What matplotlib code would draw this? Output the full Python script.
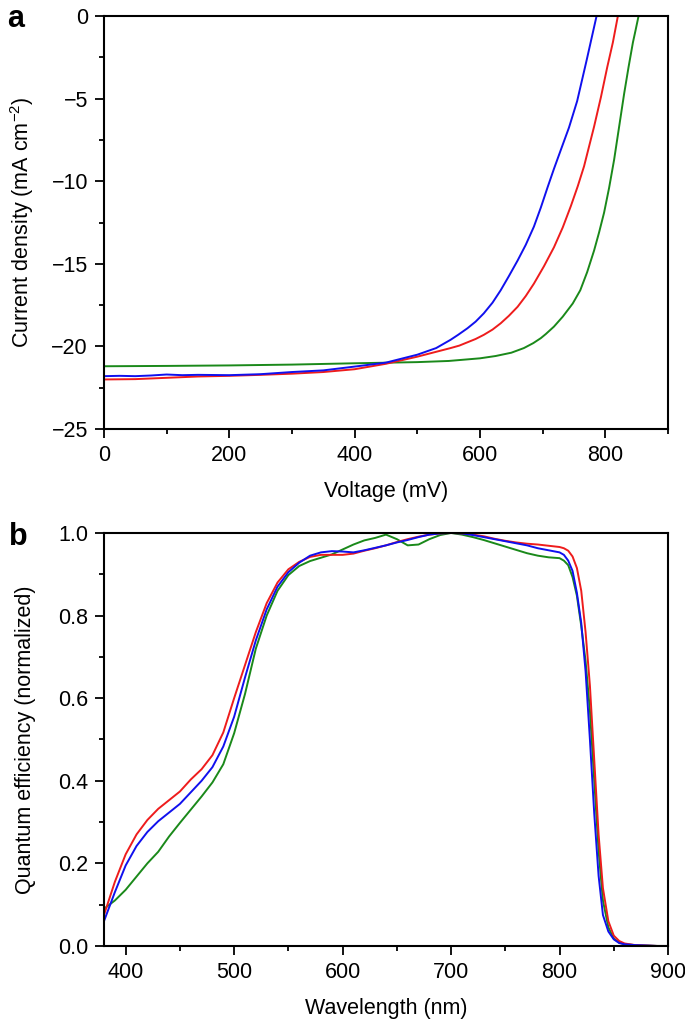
import matplotlib
matplotlib.use("Agg")
import matplotlib.pyplot as plt
from matplotlib.ticker import MultipleLocator, FormatStrFormatter

plt.rcParams['font.family'] = ['Liberation Sans', 'DejaVu Sans']
plt.rcParams['mathtext.default'] = 'regular'

#### panel a: J-V curves
v_blue = [0, 25, 50, 75, 100, 125, 150, 200, 250, 300, 325, 350, 400, 450, 500,
          530, 553, 565, 580, 593, 606, 620, 633, 646, 660, 673, 686, 697, 708,
          718, 729, 742, 755, 770, 786]
j_blue = [-21.80, -21.78, -21.80, -21.76, -21.70, -21.74, -21.72, -21.74, -21.68,
          -21.55, -21.50, -21.45, -21.22, -20.98, -20.50, -20.10, -19.60, -19.30,
          -18.90, -18.50, -18.00, -17.35, -16.60, -15.75, -14.80, -13.85, -12.75,
          -11.60, -10.35, -9.25, -8.10, -6.75, -5.15, -2.70, 0.0]

v_red = [0, 50, 100, 150, 200, 250, 300, 350, 400, 450, 500, 553, 567, 580, 593,
         606, 620, 633, 646, 660, 673, 686, 702, 718, 732, 745, 756, 766, 774, 782,
         793, 803, 812, 820]
j_red = [-22.00, -21.98, -21.90, -21.82, -21.78, -21.72, -21.65, -21.55, -21.38,
         -21.05, -20.62, -20.10, -19.95, -19.75, -19.55, -19.30, -18.98, -18.60,
         -18.15, -17.60, -16.95, -16.20, -15.15, -14.00, -12.80, -11.50, -10.30,
         -9.10, -7.90, -6.70, -4.90, -3.10, -1.60, 0.0]

v_green = [0, 100, 200, 300, 400, 500, 550, 600, 625, 650, 670, 685, 697, 705,
           718, 732, 748, 760, 771, 782, 790, 798, 806, 814, 822, 830, 837, 844,
           848, 853]
j_green = [-21.20, -21.18, -21.15, -21.10, -21.02, -20.95, -20.88, -20.72, -20.58,
           -20.38, -20.10, -19.80, -19.50, -19.25, -18.80, -18.20, -17.40, -16.60,
           -15.50, -14.20, -13.10, -11.90, -10.40, -8.70, -6.70, -4.70, -3.10,
           -1.60, -0.90, 0.0]

#### panel b: normalized quantum efficiency
wl = [380, 385, 390, 400, 410, 420, 430, 440, 450, 460, 470, 480, 490, 500, 510,
      520, 530, 540, 550, 560, 570, 580, 590, 600, 610, 620, 630, 640, 650, 660,
      670, 680, 690, 700, 710, 720, 730, 740, 750, 760, 770, 780, 790, 800, 804,
      808, 812, 816, 820, 824, 828, 832, 836, 840, 845, 850, 855, 860, 870, 880,
      890, 900]
qe_red = [0.075, 0.115, 0.155, 0.222, 0.270, 0.305, 0.332, 0.353, 0.374, 0.403,
          0.428, 0.462, 0.517, 0.600, 0.680, 0.760, 0.830, 0.880, 0.912, 0.930,
          0.942, 0.947, 0.947, 0.947, 0.950, 0.957, 0.963, 0.970, 0.978, 0.985,
          0.991, 0.996, 0.999, 1.000, 0.999, 0.996, 0.992, 0.986, 0.981, 0.977,
          0.974, 0.972, 0.969, 0.966, 0.963, 0.957, 0.943, 0.915, 0.860, 0.760,
          0.630, 0.450, 0.270, 0.140, 0.060, 0.025, 0.012, 0.006, 0.002, 0.001,
          0.0, 0.0]
qe_blue = [0.060, 0.095, 0.130, 0.195, 0.242, 0.276, 0.302, 0.323, 0.344, 0.372,
           0.400, 0.433, 0.483, 0.555, 0.650, 0.740, 0.815, 0.870, 0.905, 0.928,
           0.945, 0.953, 0.956, 0.955, 0.953, 0.958, 0.964, 0.970, 0.977, 0.983,
           0.990, 0.996, 0.999, 1.000, 0.999, 0.995, 0.990, 0.985, 0.980, 0.975,
           0.970, 0.963, 0.958, 0.953, 0.947, 0.933, 0.908, 0.855, 0.782, 0.665,
           0.500, 0.320, 0.170, 0.075, 0.035, 0.016, 0.007, 0.004, 0.002, 0.001,
           0.0, 0.0]
qe_green = [0.090, 0.100, 0.110, 0.136, 0.168, 0.200, 0.228, 0.265, 0.298, 0.330,
            0.362, 0.396, 0.440, 0.515, 0.610, 0.720, 0.800, 0.860, 0.898, 0.920,
            0.932, 0.940, 0.948, 0.960, 0.972, 0.982, 0.988, 0.996, 0.985, 0.970,
            0.972, 0.985, 0.995, 1.000, 0.996, 0.990, 0.983, 0.975, 0.967, 0.959,
            0.951, 0.945, 0.941, 0.939, 0.933, 0.922, 0.893, 0.848, 0.775, 0.690,
            0.570, 0.400, 0.230, 0.110, 0.045, 0.018, 0.008, 0.004, 0.002, 0.001,
            0.0, 0.0]

RED = '#ee1c1c'
BLUE = '#1010ee'
GREEN = '#1a891a'
FS = 15.5

fig = plt.figure(figsize=(6.85, 10.21), dpi=100)
ax_a = fig.add_axes([0.1518, 0.5798, 0.8234, 0.4045])
ax_b = fig.add_axes([0.1518, 0.0735, 0.8234, 0.4045])


def style(ax):
    for s in ax.spines.values():
        s.set_linewidth(1.5)
    ax.tick_params(which='both', direction='out', top=False, right=False,
                   labelsize=FS, width=1.3, pad=5)
    ax.tick_params(which='major', length=6.5)
    ax.tick_params(which='minor', length=3.8)


ax_a.plot(v_green, j_green, color=GREEN, lw=1.4)
ax_a.plot(v_red, j_red, color=RED, lw=1.4)
ax_a.plot(v_blue, j_blue, color=BLUE, lw=1.4)
ax_a.set_xlim(0, 900)
ax_a.set_ylim(-25, 0)
ax_a.xaxis.set_major_locator(MultipleLocator(200))
ax_a.xaxis.set_minor_locator(MultipleLocator(100))
ax_a.yaxis.set_major_locator(MultipleLocator(5))
ax_a.yaxis.set_minor_locator(MultipleLocator(2.5))
style(ax_a)
ax_a.set_xlabel('Voltage (mV)', fontsize=FS)
ax_a.set_ylabel('Current density (mA cm$^{-2}$)', fontsize=FS)
ax_a.xaxis.set_label_coords(0.5, -0.125)
ax_a.yaxis.set_label_coords(-0.12, 0.5)

ax_b.plot(wl, qe_green, color=GREEN, lw=1.4)
ax_b.plot(wl, qe_red, color=RED, lw=1.4)
ax_b.plot(wl, qe_blue, color=BLUE, lw=1.4)
ax_b.set_xlim(380, 900)
ax_b.set_ylim(0, 1)
ax_b.xaxis.set_major_locator(MultipleLocator(100))
ax_b.xaxis.set_minor_locator(MultipleLocator(50))
ax_b.yaxis.set_major_locator(MultipleLocator(0.2))
ax_b.yaxis.set_minor_locator(MultipleLocator(0.1))
ax_b.yaxis.set_major_formatter(FormatStrFormatter('%.1f'))
style(ax_b)
ax_b.set_xlabel('Wavelength (nm)', fontsize=FS)
ax_b.set_ylabel('Quantum efficiency (normalized)', fontsize=FS)
ax_b.xaxis.set_label_coords(0.5, -0.125)
ax_b.yaxis.set_label_coords(-0.12, 0.5)

fig.text(0.010, 0.9736, 'a', fontsize=22, fontweight='bold', va='baseline')
fig.text(0.013, 0.4662, 'b', fontsize=22, fontweight='bold', va='baseline')

fig.savefig('out.png', dpi=100)
